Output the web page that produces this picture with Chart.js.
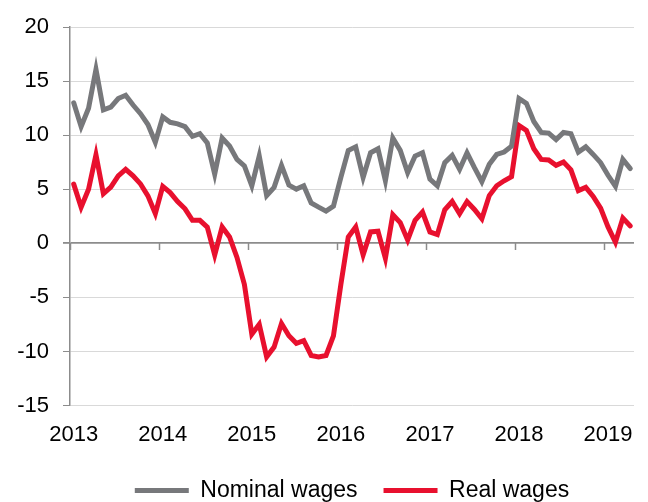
<!DOCTYPE html>
<html>
<head>
<meta charset="utf-8">
<script src="https://cdn.jsdelivr.net/npm/chart.js@4.4.1/dist/chart.umd.min.js"></script>
<style>
html,body{margin:0;padding:0;background:#ffffff;}
#wrap{width:648px;height:502px;}
</style>
</head>
<body>
<div id="wrap"><canvas id="c" width="648" height="502"></canvas></div>
<script>
// Years shown on the axis; the monthly series runs Jan 2013 - Apr 2019
const years = ['2013', '2014', '2015', '2016', '2017', '2018', '2019'];
const monthsInLastYear = 4;
const categories = [];
years.forEach((y, yi) => {
  const n = yi === years.length - 1 ? monthsInLastYear : 12;
  for (let m = 1; m <= n; m++) categories.push(y + '-' + String(m).padStart(2, '0'));
});

const nominalWages = [
  13.0, 10.8, 12.5, 16.1, 12.35, 12.6, 13.4, 13.7, 12.8, 12.0, 11.0, 9.35,
  11.7, 11.2, 11.06, 10.8, 9.9, 10.15, 9.3, 6.4, 9.75, 9.0, 7.77, 7.16,
  5.33, 8.08, 4.42, 5.18, 7.22, 5.39, 5.02, 5.33, 3.74, 3.35, 2.98, 3.44,
  6.1, 8.6, 8.93, 6.1, 8.38, 8.75, 5.8, 9.75, 8.6, 6.55, 8.08, 8.38,
  5.94, 5.33, 7.47, 8.14, 6.85, 8.38, 7.0, 5.7, 7.31, 8.23, 8.45, 9.0,
  13.4, 12.95, 11.28, 10.27, 10.2, 9.6, 10.27, 10.15, 8.45, 8.93, 8.23, 7.47,
  6.3, 5.27, 7.77, 6.92
];

const realWages = [
  5.48, 3.35, 5.0, 8.2, 4.6, 5.2, 6.25, 6.85, 6.25, 5.5, 4.4, 2.75,
  5.27, 4.7, 3.87, 3.2, 2.13, 2.13, 1.5, -1.07, 1.52, 0.6, -1.3, -3.8,
  -8.4, -7.48, -10.5, -9.6, -7.42, -8.55, -9.25, -9.0, -10.37, -10.5, -10.37, -8.55,
  -3.8, 0.6, 1.52, -1.07, 1.06, 1.12, -1.38, 2.65, 1.92, 0.3, 2.13, 2.9,
  1.06, 0.82, 3.1, 3.87, 2.74, 3.87, 3.14, 2.28, 4.42, 5.33, 5.79, 6.18,
  10.9, 10.45, 8.75, 7.77, 7.71, 7.22, 7.53, 6.8, 4.88, 5.18, 4.35, 3.26,
  1.52, 0.1, 2.34, 1.61
];

const yTicks = [-15, -10, -5, 0, 5, 10, 15, 20];
const seriesNames = ['Nominal wages', 'Real wages'];

const AXIS = '#8c8c8c';
const GRID = '#d9d9d9';
const GREY = '#77787b';
const RED = '#e8102e';
const FONT = "'Liberation Sans', Arial, sans-serif";

new Chart(document.getElementById('c'), {
  type: 'line',
  data: {
    labels: categories,
    datasets: [
      { label: seriesNames[0], data: nominalWages, borderColor: GREY, backgroundColor: GREY,
        borderWidth: 5, pointRadius: 0, tension: 0, borderCapStyle: 'round', xAxisID: 'x', yAxisID: 'y' },
      { label: seriesNames[1], data: realWages, borderColor: RED, backgroundColor: RED,
        borderWidth: 5, pointRadius: 0, tension: 0, borderCapStyle: 'round', xAxisID: 'x', yAxisID: 'y' }
    ]
  },
  options: {
    responsive: false,
    animation: false,
    devicePixelRatio: 1,
    layout: { padding: { top: 22, right: 14, left: 0, bottom: -10 } },
    plugins: {
      tooltip: { enabled: false },
      legend: {
        position: 'bottom',
        fullSize: false,
        labels: {
          usePointStyle: true,
          pointStyle: 'line',
          pointStyleWidth: 54,
          padding: 26,
          color: '#000000',
          font: { family: FONT, size: 23 }
        }
      }
    },
    scales: {
      x: {
        type: 'category',
        position: 'bottom',
        offset: true,
        grid: { display: false, drawTicks: false, offset: true },
        border: { display: false },
        ticks: {
          autoSkip: false, maxRotation: 0, minRotation: 0, padding: 16,
          color: '#000000', font: { family: FONT, size: 22 },
          callback: (v, i) => (categories[i].endsWith('-01') ? categories[i].slice(0, 4) : '')
        },
        afterFit: s => { s.height = 47.5; }
      },
      x0: {
        axis: 'x',
        type: 'category',
        position: { y: 0 },
        offset: true,
        grid: {
          offset: true, drawOnChartArea: false, drawTicks: true, tickLength: 7, tickWidth: 1.5,
          tickColor: ctx => (ctx.tick && categories[ctx.index].endsWith('-01') ? AXIS : 'rgba(0,0,0,0)')
        },
        border: { display: false },
        ticks: { display: false }
      },
      y: {
        min: -15, max: 20,
        afterBuildTicks: s => { s.ticks = yTicks.map(v => ({ value: v })); },
        grid: {
          color: ctx => (ctx.tick && ctx.tick.value === 0 ? AXIS : GRID),
          lineWidth: ctx => (ctx.tick && ctx.tick.value === 0 ? 1.8 : 1),
          tickColor: AXIS, tickLength: 7, drawTicks: true
        },
        border: { display: true, color: AXIS, width: 1.5 },
        ticks: { padding: 14, color: '#000000', font: { family: FONT, size: 22 } },
        afterFit: s => { s.width = 70; }
      }
    }
  }
});
</script>
</body>
</html>
